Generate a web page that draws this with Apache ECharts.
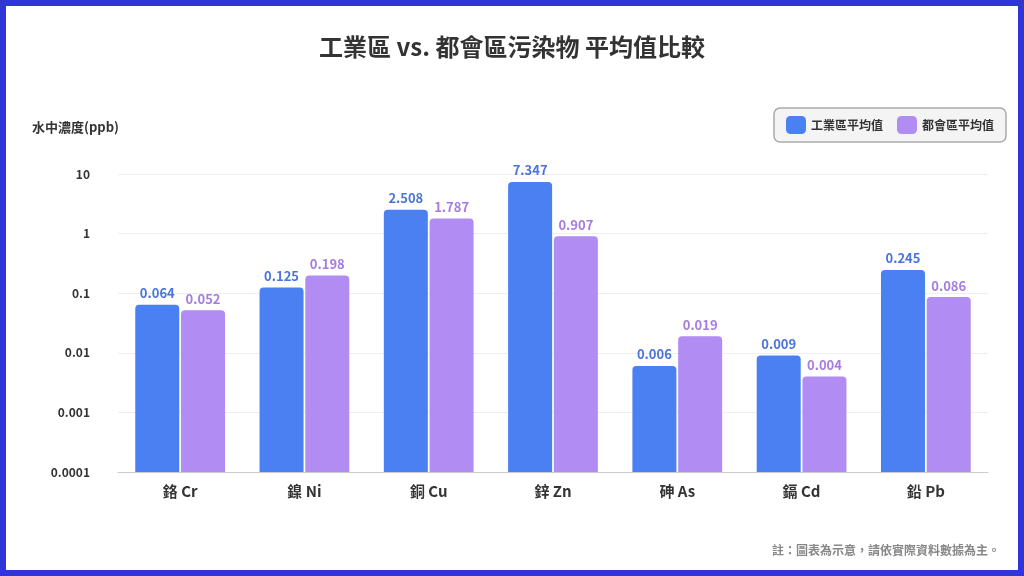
<!DOCTYPE html>
<html><head><meta charset="utf-8">
<script src="https://cdn.jsdelivr.net/npm/echarts@6/dist/echarts.min.js"></script>
<style>
html,body{margin:0;padding:0;background:#2f35d8;}
#wrap{position:absolute;left:6px;top:6px;width:1012px;height:564px;background:#fff;}
#c{width:1012px;height:564px;}
</style></head><body>
<div id="wrap"><div id="c"></div></div>
<script>
const categories=['鉻 Cr','鎳 Ni','銅 Cu','鋅 Zn','砷 As','鎘 Cd','鉛 Pb'];
const industrial=[0.064,0.125,2.508,7.347,0.006,0.009,0.245];
const urban=[0.052,0.198,1.787,0.907,0.019,0.004,0.086];
const yTicks=['0.0001','0.001','0.01','0.1','1','10'];
const font='"Noto Sans CJK TC","Noto Sans",sans-serif';
const LOGMIN=-4;
const toLog=arr=>arr.map(v=>({value:Math.log10(v)-LOGMIN,raw:v}));
const chart=echarts.init(document.getElementById('c'));
const lbl=(c)=>({show:true,position:'top',color:c,fontWeight:'bold',fontSize:13,fontFamily:font,formatter:p=>p.data.raw.toFixed(3)});
chart.setOption({
 textStyle:{fontFamily:font},
 title:{text:'工業區 vs. 都會區污染物 平均值比較',left:'center',top:24,textStyle:{fontSize:24,fontWeight:'bold',color:'#333',fontFamily:font}},
 legend:{right:12,top:102,padding:[8,12],itemGap:14,borderColor:'#aaa',borderWidth:1.5,borderRadius:6,backgroundColor:'#f4f4f4',
   icon:'roundRect',itemWidth:20,itemHeight:18,textStyle:{fontSize:12,fontWeight:'bold',color:'#333'}},
 grid:{left:112,right:30,top:168,bottom:98},
 xAxis:{type:'category',data:categories,axisTick:{show:false},axisLine:{lineStyle:{color:'#ccc'}},
   axisLabel:{fontSize:15,fontWeight:'bold',color:'#333',margin:12}},
 yAxis:{type:'value',min:0,max:5,interval:1,name:'水中濃度(ppb)',nameLocation:'end',nameGap:40,
   nameTextStyle:{align:'left',padding:[0,0,0,-86],fontSize:13,fontWeight:'bold',color:'#333'},
   axisLine:{show:false},axisTick:{show:false},splitLine:{lineStyle:{color:'#eee'}},
   axisLabel:{fontSize:12,fontWeight:'bold',color:'#333',margin:28,formatter:v=>yTicks[Math.round(v)]||''}},
 series:[
  {name:'工業區平均值',type:'bar',data:toLog(industrial),barWidth:44,barGap:'4%',itemStyle:{color:'#4a80f2',borderRadius:[4,4,0,0]},label:lbl('#4a74d8')},
  {name:'都會區平均值',type:'bar',data:toLog(urban),barWidth:44,itemStyle:{color:'#b18cf2',borderRadius:[4,4,0,0]},label:lbl('#a47de0')}
 ],
 graphic:[{type:'text',right:18,bottom:14,style:{text:'註：圖表為示意，請依實際資料數據為主。',fontSize:12,fontWeight:'bold',fill:'#888',fontFamily:font}}]
});
</script></body></html>
